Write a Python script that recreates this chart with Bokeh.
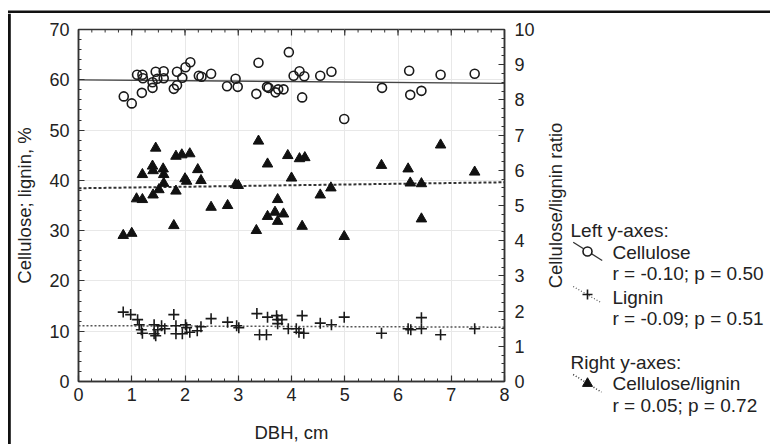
import numpy as np
from bokeh.plotting import figure
from bokeh.models import Range1d, LinearAxis, SingleIntervalTicker, Row, Column
from bokeh.embed import file_html
from bokeh.resources import INLINE
from bokeh.core.properties import value

# ---------------- data ----------------
dbh_cellulose = [0.85, 1.00, 1.10, 1.20, 1.21, 1.19, 1.39, 1.39, 1.45, 1.48, 1.60, 1.60,
                 1.79, 1.85, 1.85, 1.95, 2.01, 2.10, 2.26, 2.31, 2.49, 2.79, 2.95, 2.99,
                 3.34, 3.38, 3.54, 3.57, 3.70, 3.75, 3.85, 3.95, 4.04, 4.15, 4.20, 4.24,
                 4.54, 4.75, 4.99, 5.70, 6.21, 6.23, 6.44, 6.80, 7.44]
cellulose = [56.7, 55.3, 61.0, 61.0, 60.3, 57.4, 58.4, 59.5, 61.6, 60.2, 61.7, 60.3,
             58.2, 58.9, 61.6, 60.4, 62.5, 63.5, 60.8, 60.6, 61.2, 58.7, 60.2, 58.6,
             57.2, 63.4, 58.6, 58.4, 57.5, 58.1, 58.1, 65.5, 60.8, 61.7, 56.5, 60.7,
             60.8, 61.6, 52.2, 58.4, 61.8, 57.0, 57.8, 61.0, 61.2]

dbh_lignin = [0.84, 0.98, 1.11, 1.14, 1.18, 1.20, 1.42, 1.42, 1.45, 1.49, 1.56, 1.62,
              1.79, 1.83, 1.83, 1.95, 2.01, 2.03, 2.09, 2.23, 2.30, 2.49, 2.80, 2.97,
              3.01, 3.35, 3.40, 3.53, 3.55, 3.72, 3.74, 3.82, 3.74, 3.94, 4.09, 4.20,
              4.23, 4.14, 4.54, 4.75, 4.99, 5.69, 6.19, 6.24, 6.44, 6.44, 6.80, 7.44]
lignin = [13.8, 13.3, 12.3, 11.3, 10.3, 9.6, 11.3, 9.5, 9.1, 10.3, 11.1, 10.5,
          13.3, 11.1, 9.5, 9.5, 11.3, 10.7, 9.8, 10.1, 10.9, 12.5, 11.8, 11.1,
          10.7, 13.5, 9.3, 9.3, 12.8, 13.1, 12.3, 12.3, 11.5, 10.5, 10.5, 13.1,
          9.6, 9.8, 11.6, 11.3, 12.8, 9.6, 10.5, 10.3, 12.7, 10.5, 9.3, 10.5]

dbh_ratio = [0.84, 1.00, 1.09, 1.20, 1.20, 1.45, 1.39, 1.40, 1.40, 1.51, 1.59, 1.60,
             1.60, 1.79, 1.83, 1.83, 1.94, 2.09, 2.00, 2.03, 2.24, 2.30, 2.49, 2.80,
             2.95, 3.00, 3.34, 3.38, 3.55, 3.55, 3.69, 3.74, 3.74, 3.85, 3.93, 4.00,
             4.15, 4.25, 4.20, 4.54, 4.74, 4.99, 5.69, 6.19, 6.23, 6.44, 6.44, 6.80, 7.44]
ratio = [4.15, 4.21, 5.19, 5.17, 5.88, 6.63, 6.12, 5.99, 5.30, 5.45, 6.04, 5.88,
         5.63, 4.43, 5.41, 6.40, 6.44, 6.47, 5.76, 5.69, 6.02, 5.71, 4.95, 5.00,
         5.59, 5.57, 4.29, 6.83, 6.18, 4.69, 4.81, 4.55, 5.17, 4.76, 6.42, 5.78,
         6.33, 6.36, 4.41, 5.30, 5.50, 4.12, 6.14, 6.04, 5.64, 5.62, 4.62, 6.72, 5.95]

fit_x = [0, 8]
cellulose_fit = [60.0, 59.3]
lignin_fit = [11.1, 10.8]
ratio_fit = [5.49, 5.66]

x_label = "DBH, cm"
left_label = "Cellulose; lignin, %"
right_label = "Cellulose/lignin ratio"
legend_texts = ["Left y-axes:", "Cellulose", "r = -0.10; p = 0.50", "Lignin",
                "r = -0.09; p = 0.51", "Right y-axes:", "Cellulose/lignin", "r = 0.05; p = 0.72"]

FONT = "Liberation Sans"
INK = "#222222"
AX = "#333333"

p = figure(frame_width=426, frame_height=352, x_range=Range1d(0, 8), y_range=Range1d(0, 70),
           output_backend="svg", toolbar_location=None, frame_align=False,
           min_border_left=67, min_border_right=40, min_border_top=16, min_border_bottom=63)
p.extra_y_ranges = {"ratio": Range1d(0, 10)}
p.outline_line_color = AX
p.outline_line_width = 1.5
p.background_fill_color = "white"
p.border_fill_color = "white"


def style_axis(ax):
    ax.axis_line_color = AX
    ax.axis_line_width = 1.5
    ax.major_tick_line_color = AX
    ax.minor_tick_line_color = AX
    ax.major_tick_line_width = 1.2
    ax.minor_tick_line_width = 1
    ax.major_tick_in = 6
    ax.major_tick_out = 0
    ax.minor_tick_in = 3
    ax.minor_tick_out = 0
    ax.major_label_text_font = FONT
    ax.major_label_text_color = INK
    ax.major_label_text_font_size = "18px"
    ax.axis_label_text_font = FONT
    ax.axis_label_text_color = INK
    ax.axis_label_text_font_style = "normal"
    ax.axis_label_text_font_size = "18.5px"


xb = p.xaxis[0]
xb.ticker = SingleIntervalTicker(interval=1, num_minor_ticks=4)
style_axis(xb)
xb.axis_label = x_label
xb.major_label_standoff = 6
xb.axis_label_standoff = 18

yl = p.yaxis[0]
yl.ticker = SingleIntervalTicker(interval=10, num_minor_ticks=5)
style_axis(yl)
yl.axis_label = left_label
yl.major_label_standoff = 9
yl.axis_label_standoff = 11

yr = LinearAxis(y_range_name="ratio", ticker=SingleIntervalTicker(interval=1, num_minor_ticks=4))
style_axis(yr)
yr.major_label_standoff = 10
p.add_layout(yr, "right")

# inward ticks along the top edge of the frame (major every 1, minor every 0.25)
top_minor = np.arange(0, 8.001, 0.25)
top_major = np.arange(0, 8.001, 1.0)
px_per_unit = 352 / 70.0
p.segment(x0=top_minor, y0=70, x1=top_minor, y1=70 - 3 / px_per_unit, line_color=AX, line_width=1)
p.segment(x0=top_major, y0=70, x1=top_major, y1=70 - 6 / px_per_unit, line_color=AX, line_width=1.2)

p.xgrid.ticker = SingleIntervalTicker(interval=1)
p.ygrid.ticker = SingleIntervalTicker(interval=10)
p.grid.grid_line_color = "#e8e8e8"
p.grid.grid_line_width = 1

# fit lines
p.line(fit_x, cellulose_fit, line_color="#444444", line_width=1.3)
p.line(fit_x, lignin_fit, line_color="#555555", line_width=1.5, line_dash="2 2")
p.line(fit_x, ratio_fit, line_color="#333333", line_width=2, line_dash="3 2", y_range_name="ratio")

# points
p.scatter(dbh_cellulose, cellulose, marker="circle", size=9, fill_color=None,
          line_color="#1a1a1a", line_width=1.6)
p.scatter(dbh_lignin, lignin, marker="cross", size=11, line_color="#1a1a1a", line_width=1.6)
p.scatter(dbh_ratio, ratio, marker="triangle", size=10.5, fill_color="#111111",
          line_color="#111111", line_width=1, y_range_name="ratio")

# ---------------- right panel: right-axis title + legend ----------------
LW, LH = 226, 431
leg = figure(width=LW, height=LH, x_range=Range1d(0, LW), y_range=Range1d(LH, 0),
             output_backend="svg", toolbar_location=None, min_border=0, frame_align=False)
leg.axis.visible = False
leg.grid.visible = False
leg.outline_line_color = None
leg.border_fill_color = "white"
leg.background_fill_color = "white"

leg.text(x=[11], y=[192], text=[right_label], angle=np.pi / 2, text_font=value(FONT),
         text_font_size=value("18.5px"), text_color=INK, text_align="center", text_baseline="middle")

leg.line([28.7, 57.7], [228.7, 247], line_color="#333333", line_width=1.3)
leg.scatter([43], [238], marker="circle", size=9, fill_color="white", line_color="#1a1a1a", line_width=1.6)
leg.line([28.7, 57], [273, 289.3], line_color="#555555", line_width=1.3, line_dash="1 2")
leg.scatter([43], [281], marker="cross", size=10, line_color="#1a1a1a", line_width=1.6)
leg.line([28.7, 57], [361, 378.7], line_color="#333333", line_width=1.5, line_dash="1 2")
leg.scatter([43], [370], marker="triangle", size=10, fill_color="#111111", line_color="#111111")

leg.text(x=[26, 68, 68, 68, 68, 26, 68, 68],
         y=[217, 239, 260, 284, 305, 349, 370, 392],
         text=legend_texts, text_font=value(FONT), text_font_size=value("19px"),
         text_color=INK, text_baseline="middle", text_align="left")


# ---------------- black frame lines (top and left edges of the figure box) ----------------
def strip(w, h, left, right, top, bottom):
    b = figure(width=w, height=h, output_backend="svg", toolbar_location=None, min_border=0,
               x_range=Range1d(0, w), y_range=Range1d(h, 0), frame_align=False)
    b.axis.visible = False
    b.grid.visible = False
    b.outline_line_color = None
    b.background_fill_color = "white"
    b.border_fill_color = "white"
    b.quad(left=[left], right=[right], top=[top], bottom=[bottom], fill_color="#111111", line_color=None)
    return b


top_strip = strip(770, 13, 7.5, 770, 10, 12.5)
left_strip = strip(11, LH, 7.5, 10.3, 0, LH)

lay = Column(children=[top_strip, Row(children=[left_strip, p, leg], spacing=0)], spacing=0)

open("out.html", "w").write(file_html(lay, INLINE))
